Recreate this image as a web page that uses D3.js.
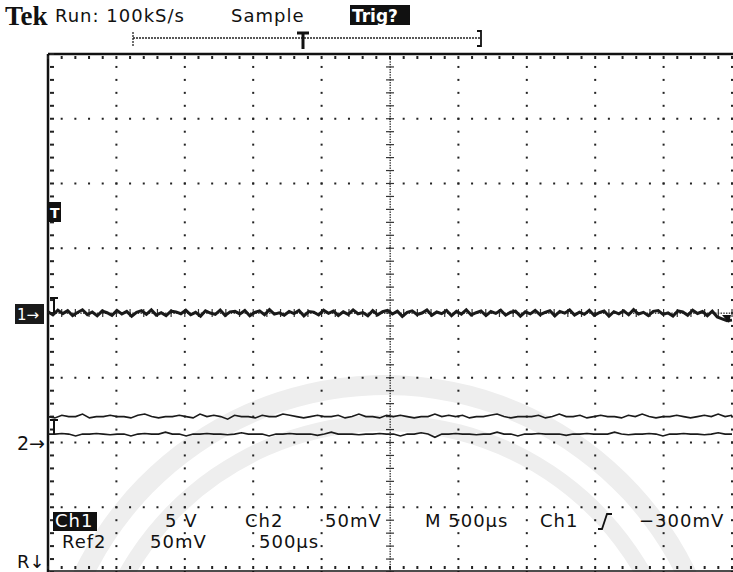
<!DOCTYPE html>
<meta charset="utf-8">
<script src="https://d3js.org/d3.v7.min.js"></script>
<style>
  body { margin: 0; background: #fff; }
  svg { display: block; }
  .lbl { font-family: "DejaVu Sans", sans-serif; font-size: 18px; letter-spacing: 1px; }
</style>
<div id="scope"></div>
<script>

// ---- data ----
// time axis: 10 divisions at 500 us/div -> 0..5 ms
var timeSpan = [0, 5];
// Ch1, 5 V/div, ground marker at centre (volts)
var ch1 = [0.10,-0.15,0.22,-0.05,0.18,-0.20,0.04,0.25,-0.12,0.08,
  -0.22,0.15,0.02,-0.18,0.20,-0.08,0.12,-0.25,0.06,0.18,
  -0.10,0.24,-0.16,0.03,-0.20,0.14,0.08,-0.06,0.21,-0.14,
  0.05,-0.24,0.17,0.00,-0.11,0.23,-0.19,0.09,0.13,-0.07,
  0.19,-0.21,0.04,0.16,-0.13,0.26,-0.09,0.01,-0.17,0.12,
  -0.04,0.20,-0.23,0.11,0.07,-0.15,0.22,-0.02,0.15,-0.19,
  0.09,-0.11,0.24,-0.06,0.03,-0.22,0.18,-0.14,0.10,0.21,
  -0.08,0.14,-0.26,0.05,0.17,-0.12,0.00,0.23,-0.18,0.08,
  -0.05,0.19,-0.21,0.13,-0.09,0.25,-0.15,0.02,0.16,-0.20,
  0.11,-0.03,0.22,-0.17,0.06,0.14,-0.24,0.09,-0.07,0.20,
  -0.13,0.04,0.18,-0.22,0.12,-0.01,0.24,-0.16,0.07,-0.10,
  0.21,-0.19,0.03,0.15,-0.25,0.10,-0.06,0.17,-0.14,0.26,
  -0.08,0.05,-0.20,0.13,0.19,-0.11,0.01,-0.23,0.16,0.08,
  -0.17,0.22,-0.04,0.11,-0.21,0.14,-0.30,-0.45,-0.60,-0.55];
// Ch2, 50 mV/div, ground marker 2 div below centre (mV)
var ch2 = [20,19,21,20,20,22,19,20,20,21,
  20,20,19,21,22,20,19,20,20,21,
  20,19,22,20,21,20,18,21,20,20,
  19,21,20,20,22,21,20,19,20,21,
  20,20,21,19,20,22,20,20,19,21,
  20,21,20,19,20,20,22,20,21,20,
  21,19,20,20,21,22,20,19,20,20,
  20,21,19,20,22,20,20,21,19,20,
  21,20,20,19,21,20,22,20,19,20,
  20,21,20,19,20,21,20,22,20,21];
// Ref2, 50 mV/div, same ground as Ch2 (mV)
var ref2 = [6.5,6.5,7,6.5,5,6.5,6.5,7,6.5,6,
  6.5,6.5,5,6.5,7,6.5,6.5,8,6.5,6.5,
  5,6.5,6.5,7,6.5,6.5,6,6.5,7.5,6.5,
  6.5,6.5,5,6.5,6.5,7,6.5,6.5,6.5,5.5,
  6.5,8,6.5,6.5,6.5,6,6.5,6.5,7,6.5,
  6.5,5,6.5,6.5,7.5,6.5,4,6.5,6.5,7,
  6.5,6.5,6,6.5,6.5,8,6.5,6.5,5,6.5,
  6.5,7,6.5,6.5,6.5,5.5,6.5,6.5,7,6.5,
  6.5,6.5,8,6.5,6,6.5,6.5,7,6.5,5,
  6.5,6.5,7,6.5,6.5,6,6.5,7.5,6.5,6.5];
var ch1Scale = 5, ch2Scale = 50;   // per division
var ch1Offset = 0, ch2Offset = -2; // divisions
var statusRow1 = ["5 V", "Ch2", "50mV", "M 500µs", "Ch1", "−300mV"];
var statusRow2 = ["Ref2", "50mV", "500µs"];

var W = 733, H = 572;
var svg = d3.select("#scope").append("svg")
  .attr("width", W).attr("height", H);

var x = d3.scaleLinear().domain(timeSpan).range([48, 732]);
var xd = d3.scaleLinear().domain([0, 10]).range([48, 732]);
var yd = d3.scaleLinear().domain([-4, 4]).range([572, 54]);

// faint watermark arcs (background of the scan)
var arc = d3.arc();
[[345, 20], [305, 16]].forEach(function(a) {
  svg.append("path")
    .attr("transform", "translate(385,720)")
    .attr("d", arc({innerRadius: a[0] - a[1], outerRadius: a[0], startAngle: -1.75, endAngle: 1.3}))
    .attr("fill", "#eeeeee");
});

// ---- graticule ----
var g = svg.append("g");
var fifths = d3.range(0, 50.001, 1).map(function(d){ return d / 5; });
var fifthsY = d3.range(0, 40.001, 1).map(function(d){ return d / 5 - 4; });

// interior vertical lines
d3.range(1, 11).forEach(function(i) {
  if (i === 5) return;
  g.selectAll(null).data(fifthsY).enter().append("rect")
    .attr("x", xd(i) - 1).attr("y", function(d){ return yd(d) - 1; })
    .attr("width", 2).attr("height", 2).attr("fill", "#222");
});
// interior horizontal lines
d3.range(-3, 4).forEach(function(j) {
  if (j === 0) return;
  g.selectAll(null).data(fifths).enter().append("rect")
    .attr("x", function(d){ return xd(d) - 1; }).attr("y", yd(j) - 1)
    .attr("width", 2).attr("height", 2).attr("fill", "#222");
});
// centre lines: dense dots + cross ticks
var dense = d3.range(0, 200.001, 1).map(function(d){ return d / 25 - 4; });
g.selectAll(null).data(dense).enter().append("rect")
  .attr("x", xd(5) - 0.5).attr("y", function(d){ return yd(d) - 0.5; })
  .attr("width", 1.4).attr("height", 1.4).attr("fill", "#333");
g.selectAll(null).data(fifthsY).enter().append("line")
  .attr("x1", xd(5) - 4).attr("x2", xd(5) + 4)
  .attr("y1", function(d){ return yd(d); }).attr("y2", function(d){ return yd(d); })
  .attr("stroke", "#333").attr("stroke-width", 1.2);
var denseX = d3.range(0, 250.001, 1).map(function(d){ return d / 25; });
g.selectAll(null).data(denseX).enter().append("rect")
  .attr("x", function(d){ return xd(d) - 0.5; }).attr("y", yd(0) - 0.5)
  .attr("width", 1.4).attr("height", 1.4).attr("fill", "#333");
g.selectAll(null).data(fifths).enter().append("line")
  .attr("x1", function(d){ return xd(d); }).attr("x2", function(d){ return xd(d); })
  .attr("y1", yd(0) - 4).attr("y2", yd(0) + 4)
  .attr("stroke", "#333").attr("stroke-width", 1.2);

// borders
g.append("line").attr("x1", 48).attr("x2", 733).attr("y1", yd(4)).attr("y2", yd(4))
  .attr("stroke", "#111").attr("stroke-width", 2.5);
g.append("line").attr("x1", 48).attr("x2", 48).attr("y1", yd(4)).attr("y2", H)
  .attr("stroke", "#111").attr("stroke-width", 2.5);
g.append("line").attr("x1", 48).attr("x2", 733).attr("y1", yd(-4) - 1).attr("y2", yd(-4) - 1)
  .attr("stroke", "#111").attr("stroke-width", 1.5);
g.selectAll(null).data(fifths).enter().append("rect")
  .attr("x", function(d){ return xd(d) - 1; }).attr("y", yd(4) + 2)
  .attr("width", 2).attr("height", 3).attr("fill", "#222");
g.selectAll(null).data(fifthsY).enter().append("rect")
  .attr("x", 50).attr("y", function(d){ return yd(d) - 1; })
  .attr("width", 4).attr("height", 2).attr("fill", "#222");
g.selectAll(null).data(fifths).enter().append("rect")
  .attr("x", function(d){ return xd(d) - 1; }).attr("y", yd(-4) - 6)
  .attr("width", 2).attr("height", 3).attr("fill", "#222");

// ---- traces ----
function idxTime(arr) {
  return function(d, i) { return x(timeSpan[0] + i * (timeSpan[1] - timeSpan[0]) / (arr.length - 1)); };
}
var line1 = d3.line().x(idxTime(ch1))
  .y(function(d){ return yd(d / ch1Scale + ch1Offset); });
var line2 = d3.line().x(idxTime(ch2))
  .y(function(d){ return yd(d / ch2Scale + ch2Offset); });
var lineR = d3.line().x(idxTime(ref2))
  .y(function(d){ return yd(d / ch2Scale + ch2Offset); });

svg.append("path").attr("d", line1(ch1)).attr("fill", "none")
  .attr("stroke", "#1a1a1a").attr("stroke-width", 3);
svg.append("path").attr("d", line2(ch2)).attr("fill", "none")
  .attr("stroke", "#1a1a1a").attr("stroke-width", 1.6);
svg.append("path").attr("d", lineR(ref2)).attr("fill", "none")
  .attr("stroke", "#1a1a1a").attr("stroke-width", 1.6);

// trace start markers
function iMark(cx, top, bot) {
  svg.append("path")
    .attr("d", "M" + (cx - 4) + "," + top + "H" + (cx + 4) + "M" + cx + "," + top + "V" + bot)
    .attr("stroke", "#111").attr("stroke-width", 2).attr("fill", "none");
}
iMark(54, yd(ch1Offset) - 15, yd(ch1Offset));
iMark(54, yd(ref2[0] / ch2Scale + ch2Offset) - 14, yd(ref2[0] / ch2Scale + ch2Offset));
// end arrow on ch1
svg.append("path").attr("d", "M722," + (yd(0) + 2) + "L731," + (yd(0) + 2) + "L729," + (yd(0) + 10) + "Z")
  .attr("fill", "#111");

// ---- header ----
svg.append("text").attr("x", 5).attr("y", 25)
  .style("font-family", "'Liberation Serif', serif").style("font-weight", "bold")
  .style("font-size", "27px").style("fill", "#111").text("Tek");
svg.append("text").attr("class", "lbl").attr("x", 55).attr("y", 22)
  .style("font-size", "18px").style("fill", "#111").text("Run: 100kS/s");
svg.append("text").attr("class", "lbl").attr("x", 231).attr("y", 22)
  .style("font-size", "18px").style("fill", "#111").text("Sample");
svg.append("rect").attr("x", 350).attr("y", 5).attr("width", 60).attr("height", 20).attr("fill", "#111");
svg.append("text").attr("class", "lbl").attr("x", 352).attr("y", 22)
  .style("font-size", "17px").style("letter-spacing", "0px").style("font-weight", "bold")
  .style("fill", "#fff").text("Trig?");

// trigger position bar
svg.append("line").attr("x1", 133).attr("x2", 481).attr("y1", 38).attr("y2", 38)
  .attr("stroke", "#222").attr("stroke-width", 1.3).attr("stroke-dasharray", "2,1");
svg.append("line").attr("x1", 133).attr("x2", 133).attr("y1", 32).attr("y2", 46)
  .attr("stroke", "#222").attr("stroke-width", 1.3).attr("stroke-dasharray", "2,1");
svg.append("path").attr("d", "M477,31H481V46H477").attr("stroke", "#111")
  .attr("stroke-width", 1.8).attr("fill", "none");
svg.append("path").attr("d", "M297,33H309M303,33V49").attr("stroke", "#111")
  .attr("stroke-width", 3).attr("fill", "none");

// ---- left markers ----
svg.append("rect").attr("x", 49).attr("y", 202).attr("width", 12).attr("height", 20).attr("fill", "#111");
svg.append("text").attr("class", "lbl").attr("x", 50).attr("y", 218)
  .style("font-size", "14px").style("font-weight", "bold").style("fill", "#fff").text("T");
svg.append("rect").attr("x", 15).attr("y", yd(ch1Offset) - 9).attr("width", 29).attr("height", 20)
  .attr("fill", "#1a1a1a");
svg.append("text").attr("class", "lbl").attr("x", 17).attr("y", yd(ch1Offset) + 7)
  .style("font-size", "15px").style("letter-spacing", "0px").style("fill", "#fff").text("1→");
svg.append("text").attr("class", "lbl").attr("x", 17).attr("y", yd(ch2Offset) + 7)
  .style("font-size", "19px").style("letter-spacing", "0px").style("fill", "#111").text("2→");
svg.append("text").attr("class", "lbl").attr("x", 17).attr("y", 568)
  .style("font-size", "18px").style("letter-spacing", "0px").style("fill", "#111").text("R↓");

// ---- status lines ----
svg.append("rect").attr("x", 53).attr("y", 512).attr("width", 44).attr("height", 19).attr("fill", "#111");
svg.append("text").attr("class", "lbl").attr("x", 55).attr("y", 527)
  .style("fill", "#fff").text("Ch1");
var row1X = [165, 245, 325, 425, 540, 639];
svg.selectAll(null).data(statusRow1).enter().append("text")
  .attr("class", "lbl").attr("x", function(d, i){ return row1X[i]; }).attr("y", 527)
  .style("fill", "#111").text(function(d){ return d; });
var row2X = [62, 150, 259];
svg.selectAll(null).data(statusRow2).enter().append("text")
  .attr("class", "lbl").attr("x", function(d, i){ return row2X[i]; }).attr("y", 548)
  .style("fill", "#111").text(function(d){ return d; });
// rising-edge trigger slope symbol
svg.append("path").attr("d", "M598,529H602L607,514H612").attr("stroke", "#111")
  .attr("stroke-width", 1.8).attr("fill", "none");

</script>
